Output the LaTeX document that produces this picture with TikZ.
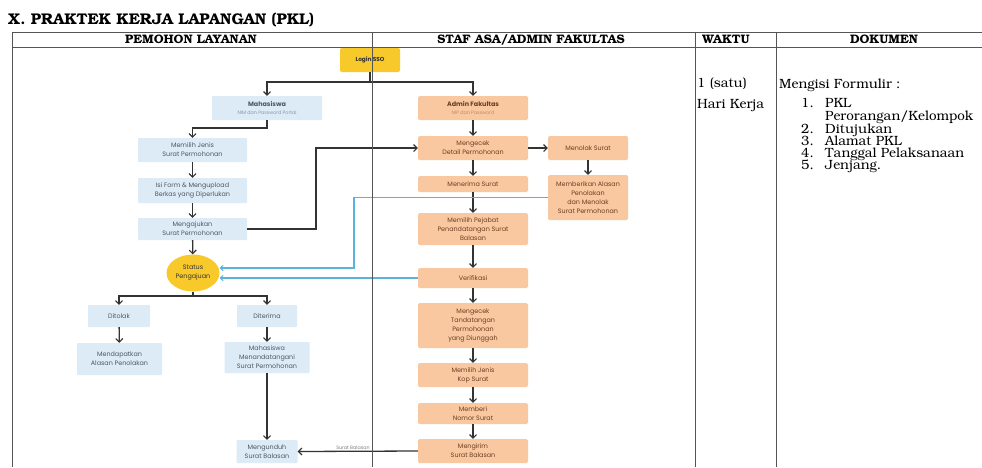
\documentclass[tikz,border=0pt]{standalone}
\usepackage[T1]{fontenc}
\usepackage{fontspec}
\usetikzlibrary{arrows.meta,shapes.geometric,calc}
\newfontfamily\flowfont{Poppins}
\newcommand\bkfont{\fontencoding{T1}\fontfamily{pbk}\selectfont}
\newcommand\subsize{\fontsize{4.8}{5}\selectfont}
\definecolor{boxblue}{HTML}{DDEBF6}
\definecolor{boxorange}{HTML}{F9C8A0}
\definecolor{boxyellow}{HTML}{F7C92A}
\definecolor{linecyan}{HTML}{56B4DE}
\definecolor{arrowgray}{HTML}{333333}
\definecolor{bluetext}{HTML}{4A5866}
\definecolor{orangetext}{HTML}{6A3E22}
\definecolor{subblue}{HTML}{8797A8}
\definecolor{suborange}{HTML}{C08A66}
\definecolor{rulegray}{HTML}{555555}
\tikzset{
  flowtxt/.style={font=\flowfont\fontsize{6.4}{9}\selectfont, align=center, inner sep=1pt},
  bluebox/.style={flowtxt, fill=boxblue, text=bluetext, rounded corners=0.8pt, minimum width=109pt, minimum height=24pt},
  orangebox/.style={flowtxt, fill=boxorange, text=orangetext, rounded corners=1.5pt, minimum width=110pt, minimum height=24pt},
  yellowbox/.style={flowtxt, fill=boxyellow, text=arrowgray, rounded corners=2pt},
  arr/.style={draw=arrowgray, line width=1.3pt, -{Straight Barb[length=3.5pt,width=7pt,line width=1.1pt]}},
  plainline/.style={draw=arrowgray, line width=1.3pt},
  cyanarr/.style={draw=linecyan, line width=1.1pt, -{Straight Barb[length=2.8pt,width=5.5pt,line width=0.9pt]}},
  rule/.style={draw=rulegray, line width=0.7pt},
  headtxt/.style={font=\bkfont\bfseries\fontsize{12.3}{14}\selectfont, text=black, anchor=base, inner sep=0pt},
  doctxt/.style={font=\bkfont\fontsize{13.4}{14}\selectfont, text=black, inner sep=0pt, anchor=base west}
}
\begin{document}
\begin{tikzpicture}[x=1pt,y=-1pt]
\useasboundingbox (0,0) rectangle (982,467);
\fill[white] (0,0) rectangle (982,467);

% title and headers
\node[anchor=base west, font=\bkfont\bfseries\fontsize{15.5}{17}\selectfont, inner sep=0pt] (title) at (8,24.5) {X. PRAKTEK KERJA LAPANGAN (PKL)};
\node[headtxt] (h1) at (191,43.5) {PEMOHON LAYANAN};
\node[headtxt] (h2) at (531,43.5) {STAF ASA/ADMIN FAKULTAS};
\node[headtxt] (h3) at (726,43.5) {WAKTU};
\node[headtxt] (h4) at (884,43.5) {DOKUMEN};

% right columns
\node[doctxt] (w1) at (697,87) {1 (satu)};
\node[doctxt] (w2) at (697,108) {Hari Kerja};
\node[doctxt] (d0) at (779,88) {Mengisi Formulir :};
\node[doctxt] (n1) at (801,107) {1.};
\node[doctxt] (l1) at (825,107) {PKL};
\node[doctxt] (l1b) at (825,120) {Perorangan/Kelompok};
\node[doctxt] (n2) at (801,133) {2.};
\node[doctxt] (l2) at (825,133) {Ditujukan};
\node[doctxt] (n3) at (801,145) {3.};
\node[doctxt] (l3) at (825,145) {Alamat PKL};
\node[doctxt] (n4) at (801,157) {4.};
\node[doctxt] (l4) at (825,157) {Tanggal Pelaksanaan};
\node[doctxt] (n5) at (801,169) {5.};
\node[doctxt] (l5) at (825,169) {Jenjang.};

% left lane nodes
\node[yellowbox, minimum width=60pt, minimum height=24pt, font=\flowfont\bfseries\fontsize{5.8}{7}\selectfont] (login) at (370,60) {Login SSO};
\node[bluebox, minimum width=110pt] (mhs) at (267,108) {\textbf{Mahasiswa}\\[-1.5pt]{\subsize\color{subblue}NIM dan Password Portal}};
\node[bluebox] (memilih) at (192.5,150) {Memilih Jenis\\Surat Permohonan};
\node[bluebox, minimum height=25pt] (isi) at (192.5,190.5) {Isi Form \& Mengupload\\Berkas yang Diperlukan};
\node[bluebox, minimum height=22pt] (ajukan) at (192.5,229) {Mengajukan\\Surat Permohonan};
\node[ellipse, fill=boxyellow, flowtxt, text=arrowgray, minimum width=53pt, minimum height=37pt, inner sep=0pt] (status) at (193,273) {Status\\Pengajuan};
\node[bluebox, minimum width=62pt, minimum height=22pt] (ditolak) at (119,316) {Ditolak};
\node[bluebox, minimum width=85pt, minimum height=32pt] (alasan) at (119.5,359) {Mendapatkan\\Alasan Penolakan};
\node[bluebox, minimum width=60pt, minimum height=22pt] (diterima) at (267,316) {Diterima};
\node[bluebox, minimum width=85pt, minimum height=31pt] (ttd) at (267,357.5) {Mahasiswa\\Menandatangani\\Surat Permohonan};
\node[bluebox, minimum width=61pt, minimum height=23pt] (unduh) at (267,451.5) {Mengunduh\\Surat Balasan};

% right lane nodes
\node[orangebox] (admin) at (473,108) {\textbf{Admin Fakultas}\\[-1.5pt]{\subsize\color{suborange}NIP dan Password}};
\node[orangebox] (cek) at (473,148) {Mengecek\\Detail Permohonan};
\node[orangebox, minimum width=80pt] (tolak) at (588,148) {Menolak Surat};
\node[orangebox, minimum width=80pt, minimum height=45pt] (beri) at (588,197.5) {Memberikan Alasan\\Penolakan\\dan Menolak\\Surat Permohonan};
\node[orangebox, minimum height=16pt] (terima) at (473,184) {Menerima Surat};
\node[orangebox, minimum height=32pt] (pejabat) at (473,229) {Memilih Pejabat\\Penandatangan Surat\\Balasan};
\node[orangebox, minimum height=20pt] (verif) at (473,278) {Verifikasi};
\node[orangebox, minimum height=45pt] (cektt) at (473,325.5) {Mengecek\\Tandatangan\\Permohonan\\yang Diunggah};
\node[orangebox, minimum height=24pt] (kop) at (473,375) {Memilih Jenis\\Kop Surat};
\node[orangebox, minimum height=21pt] (nomor) at (473,413.5) {Memberi\\Nomor Surat};
\node[orangebox, minimum height=24pt] (kirim) at (473,451) {Mengirim\\Surat Balasan};

% junction coordinates
\coordinate (j1) at (370,82);
\coordinate (j2) at (267,128);
\coordinate (j3) at (316,229);
\coordinate (j4) at (193,296);
\coordinate (j5) at (354,197.5);

% black connectors
\draw[plainline] (login.south) -- (j1);
\draw[arr] (j1) -| (mhs.north);
\draw[arr] (j1) -| (admin.north);
\draw[arr] (mhs.south) -- (j2) -| (memilih.north);
\draw[arr] (memilih) -- (isi);
\draw[arr] (isi) -- (ajukan);
\draw[arr] (ajukan) -- (status);
\draw[arr] (ajukan.east) -- (j3) |- (cek.west);
\draw[plainline] (status.south) -- (j4);
\draw[arr] (j4) -| (ditolak.north);
\draw[arr] (j4) -| (diterima.north);
\draw[arr] (ditolak) -- (alasan);
\draw[arr] (diterima) -- (ttd);
\draw[arr] (ttd) -- (unduh);
\draw[arr] (admin) -- (cek);
\draw[arr] (cek) -- (tolak);
\draw[arr] (tolak) -- (beri);
\draw[arr] (cek) -- (terima);
\draw[arr] (terima) -- (pejabat);
\draw[arr] (pejabat) -- (verif);
\draw[arr] (verif) -- (cektt);
\draw[arr] (cektt) -- (kop);
\draw[arr] (kop) -- (nomor);
\draw[arr] (nomor) -- (kirim);
\draw[arr] (kirim.west) -- node[pos=0.54, above, font=\flowfont\fontsize{4.8}{5}\selectfont, text=gray, inner sep=1.5pt] {Surat Balasan} (unduh.east);

% cyan connectors
\draw[cyanarr] (beri.west) -- (j5) |- ([yshift=5pt]status.east);
\draw[cyanarr] (verif.west) -- ([yshift=-5pt]status.east);

% table rules
\draw[rule] (12,32) -- (982,32);
\draw[rule] (12,47) -- (982,47);
\draw[rule] (12,32) -- (12,467);
\draw[rule] (372,32) -- (372,467);
\draw[rule] (695,32) -- (695,467);
\draw[rule] (776,32) -- (776,467);
\end{tikzpicture}
\end{document}
